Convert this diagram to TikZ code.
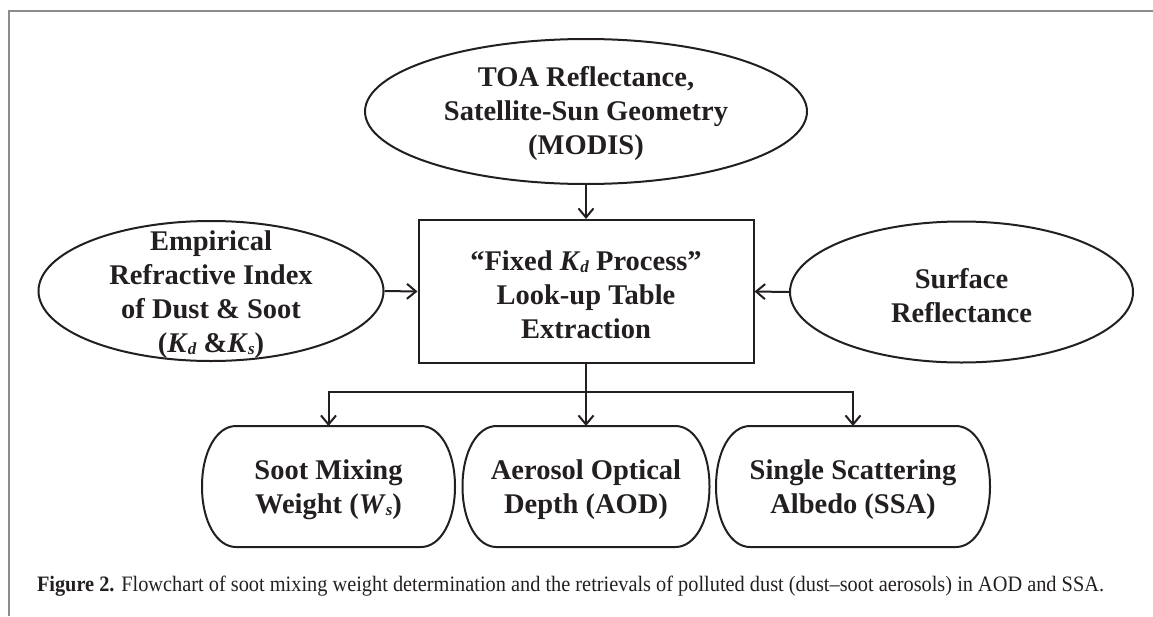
\documentclass[tikz,border=0pt]{standalone}
\usepackage{fontspec}
\setmainfont{Liberation Serif}
\usetikzlibrary{shapes.geometric,arrows.meta}
\definecolor{ink}{HTML}{231F20}
\definecolor{framegray}{HTML}{8C8C8C}
\newcommand{\Ksub}[2]{\textit{#1}{\fontsize{17}{17}\selectfont\raisebox{-1.5pt}{\textit{#2}}}}
% rounded output box: straight top/bottom, bulging rounded sides
\newcommand{\capsbox}[1]{\draw ([xshift=34pt]#1.north west) -- ([xshift=-34pt]#1.north east)
  .. controls ([xshift=-15pt]#1.north east) and ([yshift=-25pt]#1.north east) .. (#1.east)
  .. controls ([yshift=25pt]#1.south east) and ([xshift=-15pt]#1.south east) .. ([xshift=-34pt]#1.south east)
  -- ([xshift=34pt]#1.south west)
  .. controls ([xshift=15pt]#1.south west) and ([yshift=25pt]#1.south west) .. (#1.west)
  .. controls ([yshift=-25pt]#1.north west) and ([xshift=15pt]#1.north west) .. cycle;}
\begin{document}
\begin{tikzpicture}[x=1pt,y=-1pt,line width=2pt,color=ink,
  txt/.style={align=center,font=\fontsize{28.5}{34}\selectfont\bfseries,inner sep=0pt},
  ellip/.style={ellipse,draw,inner sep=0pt},
  procbox/.style={rectangle,draw,inner sep=0pt,minimum width=335pt,minimum height=143pt},
  outbox/.style={rectangle,inner sep=0pt,minimum height=119pt},
  arr/.style={-{Straight Barb[length=9pt,width=15pt]}},
  framel/.style={draw=framegray,line width=2pt}]
\useasboundingbox (0,0) rectangle (1153,616);
\draw[framel] (1153,11) -- (9,11) -- (9,616);

% input ellipses
\node[ellip,minimum width=442pt,minimum height=145pt] (toa) at (586,111.5) {};
\node[txt] (toat) at (586,113) {TOA Reflectance,\\Satellite-Sun Geometry\\(MODIS)};

\node[ellip,minimum width=345pt,minimum height=140pt] (emp) at (211,291) {};
\node[txt] (empt) at (211,295) {Empirical\\Refractive Index\\of Dust \& Soot\\(\Ksub{K}{d} \&\Ksub{K}{s})};

\node[ellip,minimum width=343pt,minimum height=141pt] (surf) at (961.5,292) {};
\node[txt] (surft) at (961.5,296) {Surface\\Reflectance};

% process box
\node[procbox] (box) at (586,291.5) {};
\node[txt] (boxt) at (586,295) {“Fixed \Ksub{K}{d} Process”\\Look-up Table\\Extraction};

% outputs
\node[outbox,minimum width=251pt] (o1) at (328.5,486.5) {};
\node[outbox,minimum width=245pt] (o2) at (586,486.5) {};
\node[outbox,minimum width=272pt] (o3) at (853,486.5) {};
\capsbox{o1}
\capsbox{o2}
\capsbox{o3}
\node[txt] (o1t) at (328.5,490) {Soot Mixing\\Weight (\Ksub{W}{s})};
\node[txt] (o2t) at (586,490) {Aerosol Optical\\Depth (AOD)};
\node[txt] (o3t) at (853,490) {Single Scattering\\Albedo (SSA)};

% connectors
\draw[arr] (toa.south) -- (box.north);
\draw[arr] (emp.east) -- (box.west);
\draw[arr] (surf.west) -- (box.east);
\coordinate (br) at (586,392);
\draw[arr] (box.south) -- (o2.north);
\draw[arr] (br) -| (o1.north);
\draw[arr] (br) -| (o3.north);

% caption
\node[anchor=base west,inner sep=0pt] (cap) at (36,591)
  {\resizebox{1067pt}{15.5pt}{\fontsize{22}{23}\selectfont\textbf{Figure 2.} Flowchart of soot mixing weight determination and the retrievals of polluted dust (dust–soot aerosols) in AOD and SSA.}};
\end{tikzpicture}
\end{document}
